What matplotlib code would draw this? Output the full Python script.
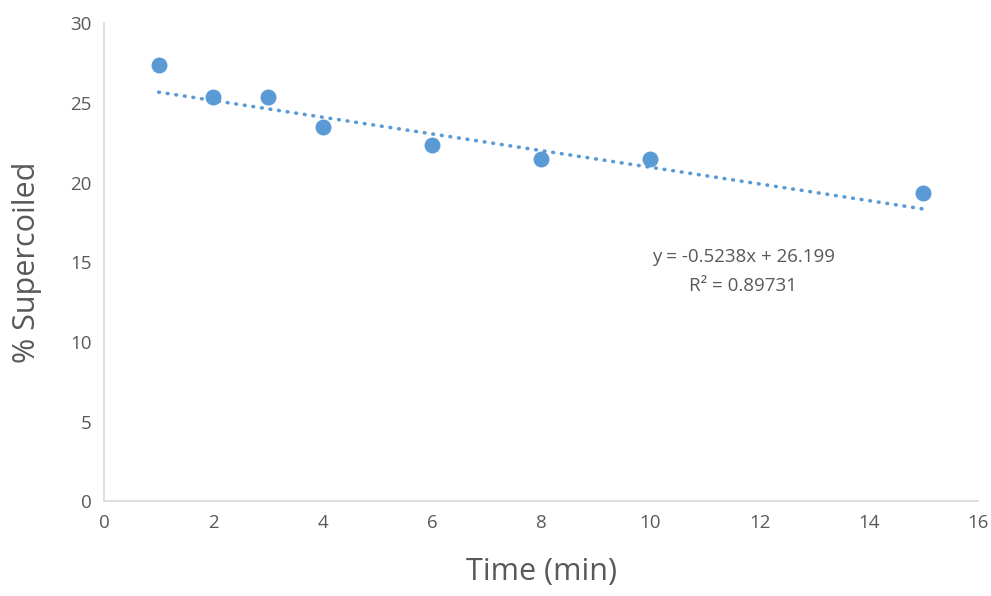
import numpy as np
import matplotlib.pyplot as plt

# data
time_min = [1, 2, 3, 4, 6, 8, 10, 15]
supercoiled = [27.4, 25.4, 25.4, 23.5, 22.35, 21.5, 21.5, 19.35]
slope = -0.5238
intercept = 26.199
r2 = 0.89731

blue = '#5B9BD5'
grey = '#595959'

plt.rcParams['font.family'] = ['Open Sans', 'DejaVu Sans']

fig = plt.figure(figsize=(9.91, 5.96), dpi=100)
ax = fig.add_axes([0.105, 0.159, 0.882, 0.802])

xt = np.array([min(time_min), max(time_min)], dtype=float)
xt = np.linspace(xt[0], xt[1], 50)
ax.plot(xt, slope * xt + intercept, color=blue, lw=2.6,
        linestyle=(0, (0.2, 2.2)), dash_capstyle='round', zorder=2)
ax.scatter(time_min, supercoiled, s=110, color=blue, zorder=3)

ax.set_xlim(0, 16)
ax.set_ylim(0, 30)
ax.set_xticks(range(0, 17, 2))
ax.set_yticks(range(0, 31, 5))
ax.tick_params(length=0, labelsize=13.5, labelcolor=grey, pad=9)

for s in ['top', 'right']:
    ax.spines[s].set_visible(False)
for s in ['left', 'bottom']:
    ax.spines[s].set_color('#D9D9D9')
    ax.spines[s].set_linewidth(1.2)

ax.set_xlabel('Time (min)', fontsize=22, color=grey, labelpad=18)
ax.set_ylabel('% Supercoiled', fontsize=22, color=grey, labelpad=20)

ax.text(11.7, 15.3, 'y = %.4fx + %.3f' % (slope, intercept), fontsize=13.5,
        color=grey, ha='center', va='center')
ax.text(11.7, 13.5, 'R² = %.5f' % r2, fontsize=13.5,
        color=grey, ha='center', va='center')

fig.savefig('out.png', dpi=100)
